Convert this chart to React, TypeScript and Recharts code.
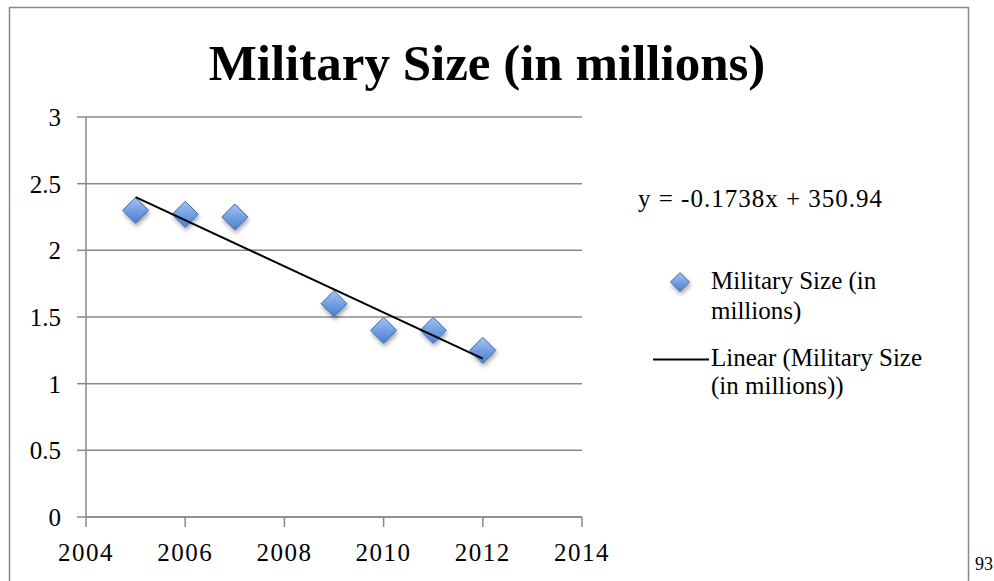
import React from 'react';
import {
  ScatterChart,
  Scatter,
  XAxis,
  YAxis,
  CartesianGrid,
  Customized,
} from 'recharts';

const years = [2005, 2006, 2007, 2009, 2010, 2011, 2012];
const sizes = [2.3, 2.27, 2.25, 1.6, 1.4, 1.4, 1.25];
const xTicks = [2004, 2006, 2008, 2010, 2012, 2014];
const yTicks = [0, 0.5, 1, 1.5, 2, 2.5, 3];

const title = 'Military Size (in millions)';
const equation = 'y = -0.1738x + 350.94';
const seriesName = ['Military Size (in', 'millions)'];
const trendName = ['Linear (Military Size', '(in millions))'];

const points = years.map((year, i) => ({ year, size: sizes[i] }));

const serif = '"Liberation Serif", "Times New Roman", serif';
const grey = '#888888';

const Diamond = ({ cx, cy, r = 13 }: { cx?: number; cy?: number; r?: number }) => {
  if (cx == null || cy == null) return <g />;
  const d = `M${cx},${cy - r} L${cx + r},${cy} L${cx},${cy + r} L${cx - r},${cy} Z`;
  return (
    <path d={d} fill="url(#diamondFill)" stroke="#3f6cb0" strokeWidth={1} filter="url(#diamondShadow)" />
  );
};

const Overlay = () => (
  <g style={{ fontFamily: serif }} fill="#000">
    <defs>
      <linearGradient id="diamondFill" x1="0" y1="0" x2="0" y2="1">
        <stop offset="0%" stopColor="#a9c4ee" />
        <stop offset="55%" stopColor="#6f9ce0" />
        <stop offset="100%" stopColor="#4d7fcc" />
      </linearGradient>
      <filter id="diamondShadow" x="-50%" y="-50%" width="200%" height="200%">
        <feDropShadow dx="1" dy="3" stdDeviation="2" floodColor="#000" floodOpacity="0.35" />
      </filter>
    </defs>
    <rect x={9.5} y={7.5} width={959} height={620} fill="none" stroke={grey} strokeWidth={1.5} />
    <text x={487} y={80} textAnchor="middle" fontSize={51} fontWeight="bold">
      {title}
    </text>
    <text x={638} y={207} fontSize={25} letterSpacing={1}>
      {equation}
    </text>
    <Diamond cx={680} cy={282} r={9.5} />
    <text x={711} y={289} fontSize={25}>{seriesName[0]}</text>
    <text x={711} y={319} fontSize={25}>{seriesName[1]}</text>
    <line x1={653} y1={359.5} x2={709} y2={359.5} stroke="#000" strokeWidth={2} />
    <text x={711} y={366} fontSize={25}>{trendName[0]}</text>
    <text x={711} y={394} fontSize={25}>{trendName[1]}</text>
    <text x={975} y={570} fontSize={18}>93</text>
  </g>
);

export default function App() {
  return (
    <div style={{ position: 'absolute', left: 0, top: 0, background: '#fff', fontFamily: serif }}>
      <ScatterChart
        width={994}
        height={581}
        margin={{ top: 117, right: 412, left: 26, bottom: 24 }}
        style={{ fontFamily: serif }}
      >
        <Customized component={Overlay} />
        <CartesianGrid vertical={false} stroke={grey} strokeWidth={1.5} />
        <XAxis
          type="number"
          dataKey="year"
          domain={[2004, 2014]}
          ticks={xTicks}
          height={40}
          tickSize={10}
          tickMargin={16}
          stroke={grey}
          strokeWidth={1.5}
          tick={{ fontSize: 25, fill: '#000', letterSpacing: 1.5, style: { fontFamily: serif } }}
        />
        <YAxis
          type="number"
          dataKey="size"
          domain={[0, 3]}
          ticks={yTicks}
          width={60}
          tickSize={9}
          tickMargin={16}
          stroke={grey}
          strokeWidth={1.5}
          tick={{ fontSize: 25, fill: '#000', style: { fontFamily: serif } }}
        />
        <Scatter data={points} shape={<Diamond />} isAnimationActive={false} />
        <Scatter
          data={points}
          line={{ stroke: '#000', strokeWidth: 2 }}
          lineType="fitting"
          shape={() => <g />}
          isAnimationActive={false}
        />
      </ScatterChart>
    </div>
  );
}
